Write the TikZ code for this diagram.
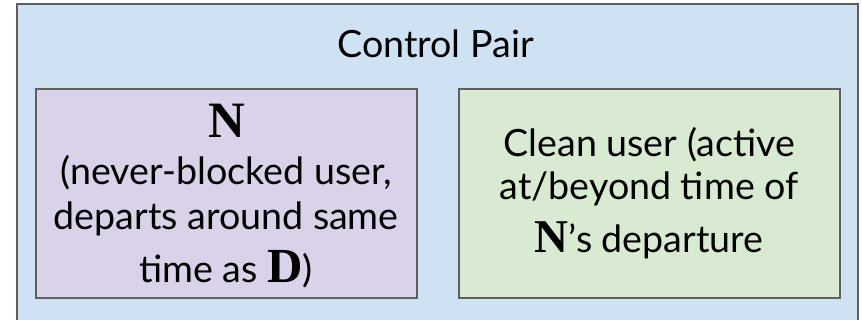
\documentclass[tikz,border=0pt]{standalone}
\usepackage{fontspec}
\setmainfont{Lato}
\newfontfamily\serifbf{Liberation Serif}
\definecolor{outerblue}{HTML}{CFE2F3}
\definecolor{purplefill}{HTML}{D9D2E9}
\definecolor{greenfill}{HTML}{D9EAD3}
\definecolor{bordergray}{HTML}{5F5F5F}
\newcommand\Sbf[2]{{\serifbf\bfseries\fontsize{#1}{#1}\selectfont #2}}
\begin{document}
\begin{tikzpicture}[x=1pt,y=-1pt,
  box/.style={draw=bordergray, line width=1.8pt},
  txt/.style={anchor=base, inner sep=0pt, font=\fontsize{37.6}{45}\selectfont}]
\useasboundingbox (0,0) rectangle (862,320);
\clip (0,0) rectangle (862,320);
\draw[box, fill=outerblue] (17,4) rectangle (858,335);
\draw[box, fill=purplefill] (35.7,89) rectangle (416.7,297.7);
\draw[box, fill=greenfill] (458.7,89) rectangle (839.7,297.7);
\node[txt] (title) at (435.5,58) {Control Pair};
\node[txt] (l1) at (226.5,137.5) {\Sbf{51}{N}};
\node[txt] (l2) at (226.2,185) {(never-blocked user,};
\node[txt] (l3) at (226.2,230) {departs around same};
\node[txt] (l4) at (226.2,283) {time as \Sbf{49}{D})};
\node[txt] (r1) at (649.2,156.7) {Clean user (active};
\node[txt] (r2) at (649.2,200) {at/beyond time of};
\node[txt] (r3) at (649.2,253) {\Sbf{47}{N}’s departure};
\end{tikzpicture}
\end{document}
